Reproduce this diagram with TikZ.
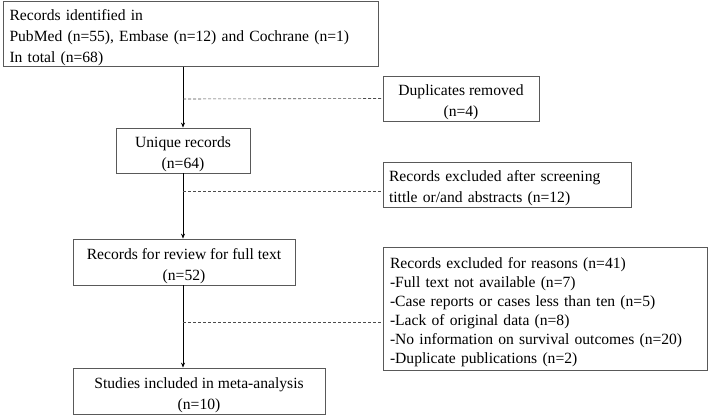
\documentclass[tikz,border=0pt]{standalone}
\usepackage{fontspec}
\setmainfont{Liberation Serif}
\usetikzlibrary{arrows.meta}
\newcommand{\lowtext}{\rule{0pt}{19pt}}

\begin{document}
\begin{tikzpicture}[x=1pt,y=-1pt,every node/.style={draw=black!65,line width=0.8pt,inner sep=0pt,font=\fontsize{15.6}{21}\selectfont},
	stagebox/.style={align=center},
	listbox/.style={align=left,text width=#1},
	flow/.style={-{Stealth[length=5pt,width=4pt]},line width=0.7pt},
	skip/.style={dashed,dash pattern=on 3pt off 2pt,black!70,line width=0.6pt}
	]
	\useasboundingbox (0,0) rectangle (709,417);
	% main column
	\node[listbox=362pt,minimum width=375pt,minimum height=64pt](ident) at (190.5,34){\lowtext Records identified in\\PubMed (n=55), Embase (n=12) and Cochrane (n=1)\\In total (n=68)};
	\node[stagebox,minimum width=134pt,minimum height=45pt](uniq) at (183,150.5){\lowtext Unique records\\(n=64)};
	\node[stagebox,minimum width=222pt,minimum height=46pt](review) at (184,262){\lowtext Records for review for full text\\(n=52)};
	\node[stagebox,minimum width=252pt,minimum height=46pt](studies) at (199,391){\lowtext Studies included in meta-analysis\\(n=10)};
	% exclusions
	\node[stagebox,minimum width=156pt,minimum height=45pt](dup) at (461,98.5){\lowtext Duplicates removed\\(n=4)};
	\node[listbox=236pt,minimum width=248pt,minimum height=45pt](screen) at (507,184.5){\lowtext Records excluded after screening\\tittle or/and abstracts (n=12)};
	\node[listbox=310pt,minimum width=324pt,minimum height=123pt,font=\fontsize{15.6}{19}\selectfont](reasons) at (545,308.5){\lowtext Records excluded for reasons (n=41)\\-Full text not available (n=7)\\-Case reports or cases less than ten (n=5)\\-Lack of original data (n=8)\\-No information on survival outcomes (n=20)\\-Duplicate publications (n=2)};
	\coordinate (j1) at (183,99);
	\coordinate (j2) at (183,191);
	\coordinate (j3) at (183,322);
	\draw[flow] (ident.south -| uniq) -- (uniq.north);
	\draw[flow] (uniq.south) -- (review.north -| uniq);
	\draw[flow] (review.south -| uniq) -- (studies.north -| uniq);
	\draw[skip] (j1) -- (dup.west);
	\draw[skip] (j2) -- (j2 -| screen.west);
	\draw[skip] (j3) -- (j3 -| reasons.west);
\end{tikzpicture}
\end{document}
